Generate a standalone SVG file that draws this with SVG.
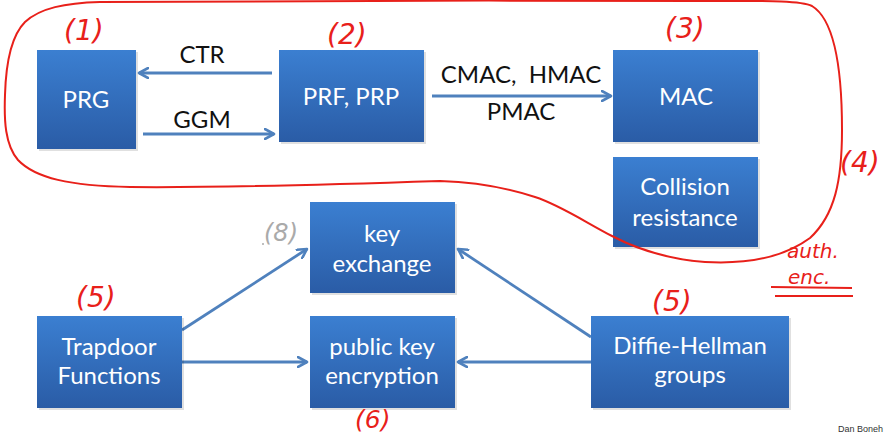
<svg xmlns="http://www.w3.org/2000/svg" width="888" height="435" viewBox="0 0 888 435">
<defs>
<linearGradient id="g" x1="0" y1="0" x2="0" y2="1">
<stop offset="0" stop-color="#3b7fd1"/>
<stop offset="1" stop-color="#2a5ca6"/>
</linearGradient>
<marker id="ah" viewBox="0 0 12 12" refX="10" refY="6" markerWidth="12" markerHeight="12" markerUnits="userSpaceOnUse" orient="auto">
<path d="M1,1 L10,6 L1,11" fill="none" stroke="#4f81bd" stroke-width="2.6" stroke-linecap="round" stroke-linejoin="round"/>
</marker>
</defs>
<style>
.box{fill:url(#g);}
.sh{fill:#000;opacity:0.12;}
.bt{font-family:Lato,"Open Sans",sans-serif;font-size:24px;fill:#fff;text-anchor:middle;}
.lb{font-family:Lato,"Open Sans",sans-serif;font-size:24px;fill:#111;text-anchor:middle;}
.cn{stroke:#4f81bd;stroke-width:2.8;fill:none;marker-end:url(#ah);}
.hw{font-family:"DejaVu Sans",sans-serif;font-style:italic;font-size:28px;fill:#e8201a;font-weight:200;}
.rd{fill:none;stroke:#e8201a;stroke-width:2;}
</style>
<rect width="888" height="435" fill="#fff"/>

<g id="connectors">
<line class="cn" x1="272" y1="73" x2="139" y2="73"/>
<line class="cn" x1="143" y1="134" x2="274" y2="134"/>
<line class="cn" x1="432" y1="96" x2="611" y2="96"/>
<line class="cn" x1="182" y1="330" x2="307" y2="249"/>
<line class="cn" x1="182" y1="362" x2="307" y2="362"/>
<line class="cn" x1="591" y1="337" x2="458" y2="249"/>
<line class="cn" x1="591" y1="362" x2="458" y2="362"/>
<text class="lb" x="202" y="63">CTR</text>
<text class="lb" x="202" y="128">GGM</text>
<text class="lb" x="521" y="83" xml:space="preserve">CMAC,  HMAC</text>
<text class="lb" x="521" y="120">PMAC</text>
</g>

<g id="prg"><rect class="sh" x="39" y="52" width="99" height="99"/><rect class="box" x="37" y="50" width="99" height="99"/><text class="bt" x="86" y="108">PRG</text></g>
<g id="prf"><rect class="sh" x="281" y="52" width="145" height="92"/><rect class="box" x="279" y="50" width="145" height="92"/><text class="bt" x="351" y="105">PRF, PRP</text></g>
<g id="mac"><rect class="sh" x="615" y="52" width="145" height="92"/><rect class="box" x="613" y="50" width="145" height="92"/><text class="bt" x="686" y="105">MAC</text></g>
<g id="collision"><rect class="sh" x="615" y="159" width="145" height="90"/><rect class="box" x="613" y="157" width="145" height="90"/><text class="bt" x="685" y="195">Collision</text><text class="bt" x="685" y="226">resistance</text></g>
<g id="keyexchange"><rect class="sh" x="312" y="204" width="145" height="91"/><rect class="box" x="310" y="202" width="145" height="91"/><text class="bt" x="382" y="242">key</text><text class="bt" x="382" y="272">exchange</text></g>
<g id="pke"><rect class="sh" x="312" y="318" width="145" height="92"/><rect class="box" x="310" y="316" width="145" height="92"/><text class="bt" x="382" y="355">public key</text><text class="bt" x="382" y="384">encryption</text></g>
<g id="trapdoor"><rect class="sh" x="39" y="318" width="145" height="92"/><rect class="box" x="37" y="316" width="145" height="92"/><text class="bt" x="109" y="355">Trapdoor</text><text class="bt" x="109" y="384">Functions</text></g>
<g id="dh"><rect class="sh" x="593" y="318" width="198" height="92"/><rect class="box" x="591" y="316" width="198" height="92"/><text class="bt" x="690" y="354">Diffie-Hellman</text><text class="bt" x="690" y="383">groups</text></g>

<g id="annotations">
<path class="rd" d="M100,2 C250,1 500,0 700,1 C760,1 800,0 812,6 C835,20 842,70 842,130 C842,180 835,215 810,238 C780,260 740,264 705,262 C665,259 635,248 612,236 C585,222 560,205 535,197 C505,187 470,182 440,181 C350,184 230,188 130,187 C70,186 35,178 18,160 C5,145 4,120 5,95 C6,60 12,35 25,22 C40,8 65,3 100,2 Z"/>
<text class="hw" x="64" y="40">(1)</text>
<text class="hw" x="327" y="44">(2)</text>
<text class="hw" x="665" y="38">(3)</text>
<text class="hw" x="840" y="172">(4)</text>
<text class="hw" x="76" y="307">(5)</text>
<text class="hw" x="652" y="311">(5)</text>
<text class="hw" x="355" y="428" style="font-size:25px">(6)</text>
<text class="hw" x="264" y="241" style="fill:#aaa;font-size:24px">(8)</text>
<circle cx="263" cy="244" r="1" fill="#aaa"/>
<text class="hw" x="787" y="258" style="font-size:20px">auth.</text>
<text class="hw" x="788" y="284" style="font-size:20px">enc.</text>
<line class="rd" x1="771" y1="287" x2="852" y2="288"/>
<line class="rd" x1="775" y1="296" x2="853" y2="296"/>
</g>
<text x="838" y="432" style="font-family:'Liberation Sans',sans-serif;font-size:9px;fill:#333">Dan Boneh</text>
</svg>
